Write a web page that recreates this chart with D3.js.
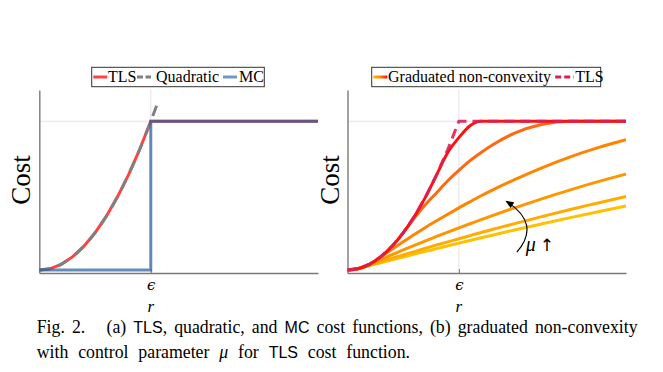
<!DOCTYPE html>
<html>
<head>
<meta charset="utf-8">
<script src="https://cdn.jsdelivr.net/npm/d3@7"></script>
<style>
  body { margin: 0; background: #fff; }
  svg { display: block; }
</style>
</head>
<body>
<div id="chart"></div>
<script>

// residual r (in units of epsilon) and cost (in units of c^2)
var tlsR    = [0, 0.1, 0.2, 0.3, 0.4, 0.5, 0.6, 0.7, 0.8, 0.9, 1.0, 2.5];
var tlsCost = [0, 0.01, 0.04, 0.09, 0.16, 0.25, 0.36, 0.49, 0.64, 0.81, 1.0, 1.0];

var quadR    = [0, 0.1, 0.2, 0.3, 0.4, 0.5, 0.6, 0.7, 0.8, 0.9, 1.0, 1.06];
var quadCost = [0, 0.01, 0.04, 0.09, 0.16, 0.25, 0.36, 0.49, 0.64, 0.81, 1.0, 1.12];

var mcR    = [0, 1, 1, 2.5];
var mcCost = [0, 0, 1, 1];

// graduated non-convexity surrogates, one row per mu (largest mu first)
var gncR = [0, 0.1, 0.2, 0.3, 0.4, 0.5, 0.6, 0.7, 0.8, 0.9, 1.0, 1.1, 1.2, 1.3, 1.5, 1.75, 2.0, 2.25, 2.5];
var gncCost = [
    [0, 0.01, 0.04, 0.09, 0.16, 0.25, 0.36, 0.49, 0.64, 0.79, 0.89, 0.97, 1.0, 1.0, 1.0, 1.0, 1.0, 1.0, 1.0],
    [0, 0.01, 0.04, 0.09, 0.16, 0.25, 0.35, 0.44, 0.52, 0.60, 0.67, 0.735, 0.79, 0.84, 0.92, 0.98, 1.0, 1.0, 1.0],
    [0, 0.01, 0.04, 0.089, 0.14, 0.19, 0.239, 0.286, 0.331, 0.375, 0.418, 0.459, 0.499, 0.537, 0.608, 0.689, 0.761, 0.823, 0.876],
    [0, 0.01, 0.039, 0.071, 0.103, 0.135, 0.166, 0.196, 0.226, 0.255, 0.283, 0.311, 0.339, 0.366, 0.418, 0.48, 0.539, 0.594, 0.645],
    [0, 0.01, 0.033, 0.056, 0.079, 0.102, 0.124, 0.146, 0.168, 0.189, 0.21, 0.231, 0.252, 0.272, 0.312, 0.36, 0.407, 0.451, 0.494],
    [0, 0.01, 0.03, 0.049, 0.069, 0.088, 0.107, 0.126, 0.144, 0.163, 0.181, 0.199, 0.217, 0.234, 0.269, 0.311, 0.352, 0.392, 0.43]
];
var gncColors = ["#ff1010", "#ff6a10", "#ff8400", "#ff9600", "#ffab00", "#ffc000"];

var leftLegend  = ["TLS", "Quadratic", "MC"];
var rightLegend = ["Graduated non-convexity", "TLS"];
var xTickLabel = "\u03f5",
    xLabel = "r",
    yLabel = "Cost";

var width = 663, height = 372;
var xDomain = [0, 2.5], yDomain = [-0.02, 1.21];
var serif = "'Liberation Serif', 'Times New Roman', serif",
    sans = "'Liberation Sans', Arial, sans-serif";

var svg = d3.select("#chart").append("svg")
    .attr("width", width)
    .attr("height", height)
    .style("font-family", serif);

svg.append("rect").attr("width", width).attr("height", height).attr("fill", "#fff");

var defs = svg.append("defs");
var grad = defs.append("linearGradient").attr("id", "gncGrad");
grad.append("stop").attr("offset", "0%").attr("stop-color", "#ffc000");
grad.append("stop").attr("offset", "50%").attr("stop-color", "#ff8400");
grad.append("stop").attr("offset", "100%").attr("stop-color", "#ff1010");

function zip(xs, ys) {
    return xs.map(function (x, i) { return [x, ys[i]]; });
}

// draw the frame of one panel, returns its scales
function panel(x0, x1) {
    var xScale = d3.scaleLinear().domain(xDomain).range([x0, x1]),
        yScale = d3.scaleLinear().domain(yDomain).range([273, 90]);

    var g = svg.append("g");

    // grid lines at epsilon and at the cost plateau
    g.append("line")
        .attr("x1", xScale(1)).attr("x2", xScale(1))
        .attr("y1", yScale.range()[0]).attr("y2", yScale.range()[1])
        .attr("stroke", "#e4e4e4").attr("stroke-width", 1);
    g.append("line")
        .attr("x1", x0).attr("x2", x1)
        .attr("y1", yScale(1)).attr("y2", yScale(1))
        .attr("stroke", "#e4e4e4").attr("stroke-width", 1);

    var xAxis = d3.axisBottom(xScale).tickValues([1]).tickFormat(function () { return xTickLabel; })
        .tickSizeInner(-4).tickSizeOuter(0).tickPadding(6);
    var yAxis = d3.axisLeft(yScale).tickValues([]).tickSizeOuter(0);

    var ax = g.append("g").attr("transform", "translate(0," + yScale.range()[0] + ")").call(xAxis);
    var ay = g.append("g").attr("transform", "translate(" + x0 + ",0)").call(yAxis);
    [ax, ay].forEach(function (a) {
        a.select(".domain").attr("stroke", "#7a7a7a").attr("stroke-width", 1.4);
        a.selectAll(".tick line").attr("stroke", "#7a7a7a").attr("stroke-width", 1);
    });
    ax.selectAll(".tick text")
        .attr("fill", "#000")
        .style("font-family", "'DejaVu Serif', serif")
        .style("font-style", "italic")
        .style("font-size", "15px");

    g.append("text")
        .attr("x", xScale(1)).attr("y", 312)
        .attr("text-anchor", "middle")
        .style("font-family", serif)
        .style("font-style", "italic")
        .style("font-size", "17px")
        .text(xLabel);

    g.append("text")
        .attr("transform", "translate(" + (x0 - 9) + ",180) rotate(-90)")
        .attr("text-anchor", "middle")
        .style("font-family", serif)
        .style("font-size", "27px")
        .text(yLabel);

    return { g: g, x: xScale, y: yScale };
}

function legendBox(x, y, w, h) {
    var lg = svg.append("g").attr("transform", "translate(" + x + "," + y + ")");
    lg.append("rect").attr("width", w).attr("height", h)
        .attr("fill", "#fff").attr("stroke", "#333").attr("stroke-width", 1);
    return lg;
}

// ---- (a) TLS, quadratic, MC ----
var A = panel(39.3, 318);
var lineA = d3.line().x(function (d) { return A.x(d[0]); }).y(function (d) { return A.y(d[1]); });

A.g.append("path").datum(zip(tlsR, tlsCost))
    .attr("d", lineA).attr("fill", "none")
    .attr("stroke", "#ff4343").attr("stroke-width", 3);
A.g.append("path").datum(zip(quadR, quadCost))
    .attr("d", lineA.curve(d3.curveMonotoneX)).attr("fill", "none")
    .attr("stroke", "#808080").attr("stroke-width", 3)
    .attr("stroke-dasharray", "11,9");
A.g.append("path").datum(zip(mcR, mcCost))
    .attr("d", lineA.curve(d3.curveLinear)).attr("fill", "none")
    .attr("stroke", "#2a609c").attr("stroke-opacity", 0.72).attr("stroke-width", 3);

var lgA = legendBox(91.7, 67.3, 172.6, 19.4);
var swA = [
    { x: 1.6, text: 16.3, color: "#ff4343", dash: null },
    { x: 45.3, text: 64.3, color: "#808080", dash: "6,2.5" },
    { x: 131.3, text: 147.3, color: "#6c9ac4", dash: null }
];
swA.forEach(function (s, i) {
    lgA.append("line")
        .attr("x1", s.x).attr("x2", s.x + 14).attr("y1", 9.7).attr("y2", 9.7)
        .attr("stroke", s.color).attr("stroke-width", 3)
        .attr("stroke-dasharray", s.dash);
    lgA.append("text").attr("x", s.text).attr("y", 15)
        .style("font-size", "16px").text(leftLegend[i]);
});

// ---- (b) graduated non-convexity ----
var B = panel(347.5, 626);
var lineB = d3.line().x(function (d) { return B.x(d[0]); }).y(function (d) { return B.y(d[1]); })
    .curve(d3.curveMonotoneX);

B.g.selectAll(".gnc").data(gncCost.slice().reverse())
    .enter().append("path")
    .attr("class", "gnc")
    .attr("d", function (d) { return lineB(zip(gncR, d)); })
    .attr("fill", "none")
    .attr("stroke", function (d, i) { return gncColors[gncColors.length - 1 - i]; })
    .attr("stroke-width", 3);

B.g.append("path").datum(zip(tlsR, tlsCost))
    .attr("d", lineB.curve(d3.curveLinear)).attr("fill", "none")
    .attr("stroke", "#dc1f55").attr("stroke-opacity", 0.9).attr("stroke-width", 3)
    .attr("stroke-dasharray", "10,6");

// mu annotation arrow
var arrowFrom = [1.52, 0.12], arrowBend = [1.74, 0.31], arrowTo = [1.43, 0.46];
defs.append("marker").attr("id", "head")
    .attr("viewBox", "0 0 10 10").attr("refX", 8).attr("refY", 5)
    .attr("markerWidth", 7).attr("markerHeight", 7).attr("orient", "auto")
    .append("path").attr("d", "M0,1 L10,5 L0,9 Z").attr("fill", "#000");
var ap = d3.path();
ap.moveTo(B.x(arrowFrom[0]), B.y(arrowFrom[1]));
ap.quadraticCurveTo(B.x(arrowBend[0]), B.y(arrowBend[1]), B.x(arrowTo[0]), B.y(arrowTo[1]));
B.g.append("path").attr("d", ap.toString())
    .attr("fill", "none").attr("stroke", "#000").attr("stroke-width", 1.2)
    .attr("marker-end", "url(#head)");
var mu = B.g.append("text").attr("x", B.x(1.6)).attr("y", B.y(0.125)).style("font-size", "20px");
mu.append("tspan").style("font-style", "italic").text("\u03bc");
mu.append("tspan").attr("dx", 4).style("font-family", "'DejaVu Sans', sans-serif").style("font-size", "17px").text("\u2191");

var lgB = legendBox(371.7, 67.3, 229, 19.4);
lgB.append("rect").attr("x", 1.6).attr("y", 8.2).attr("width", 14).attr("height", 3)
    .attr("fill", "url(#gncGrad)");
lgB.append("text").attr("x", 16.3).attr("y", 15).style("font-size", "16px").text(rightLegend[0]);
lgB.append("line").attr("x1", 183.5).attr("x2", 202).attr("y1", 9.7).attr("y2", 9.7)
    .attr("stroke", "#dc1f55").attr("stroke-width", 3).attr("stroke-dasharray", "6,3");
lgB.append("text").attr("x", 203.5).attr("y", 15).style("font-size", "16px").text(rightLegend[1]);

// ---- caption ----
var capX = 36.7, capRight = 635;
var cap1 = svg.append("text").attr("x", capX).attr("y", 333).style("font-size", "17.8px");
[["Fig. 2.\u00a0\u00a0 (a) ", null], ["TLS", sans], [", quadratic, and ", null], ["MC", sans],
 [" cost functions, (b) graduated non-convexity", null]].forEach(function (p) {
    var t = cap1.append("tspan").text(p[0]);
    if (p[1]) t.style("font-family", p[1]).style("font-size", "16px");
});
var cap2 = svg.append("text").attr("x", capX).attr("y", 357.5).style("font-size", "17.8px");
[["with control parameter ", null, false], ["\u03bc", null, true], [" for ", null, false],
 ["TLS", sans, false], [" cost function.", null, false]].forEach(function (p) {
    var t = cap2.append("tspan").text(p[0]);
    if (p[1]) t.style("font-family", p[1]).style("font-size", "16px");
    if (p[2]) t.style("font-style", "italic");
});

// justify the first line, loosen the second like the original
var w1 = cap1.node().getComputedTextLength();
cap1.style("word-spacing", Math.max(0, (capRight - capX - w1) / 12) + "px");
var w2 = cap2.node().getComputedTextLength();
cap2.style("word-spacing", Math.max(0, (410 - capX - w2) / 7) + "px");

</script>
</body>
</html>
